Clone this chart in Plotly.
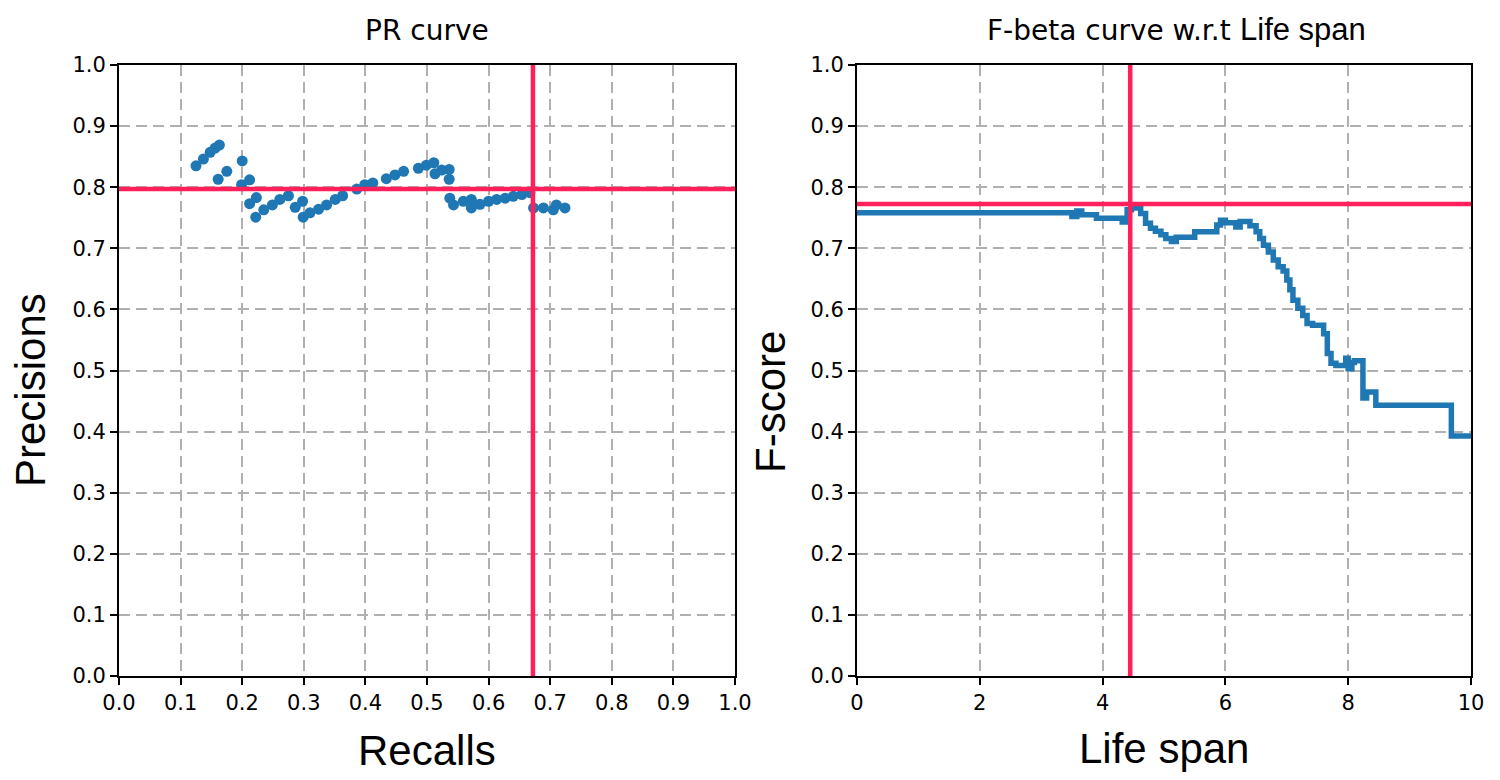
import plotly.graph_objects as go
from plotly.subplots import make_subplots

# PR curve points
recalls = [0.125, 0.137, 0.148, 0.156, 0.163, 0.161, 0.175, 0.200, 0.199, 0.212,
           0.212, 0.223, 0.222, 0.235, 0.249, 0.261, 0.275, 0.286, 0.298, 0.299,
           0.310, 0.324, 0.337, 0.351, 0.363, 0.386, 0.399, 0.412, 0.434, 0.448,
           0.462, 0.486, 0.499, 0.511, 0.513, 0.524, 0.536, 0.536, 0.537, 0.543,
           0.559, 0.572, 0.572, 0.586, 0.600, 0.613, 0.627, 0.640, 0.654, 0.667,
           0.673, 0.689, 0.705, 0.710, 0.724]
precisions = [0.835, 0.846, 0.857, 0.864, 0.869, 0.813, 0.826, 0.843, 0.804, 0.812,
              0.773, 0.783, 0.751, 0.763, 0.771, 0.780, 0.786, 0.767, 0.777, 0.751,
              0.758, 0.764, 0.771, 0.780, 0.786, 0.797, 0.804, 0.807, 0.814, 0.820,
              0.826, 0.831, 0.836, 0.840, 0.822, 0.828, 0.829, 0.813, 0.782, 0.771,
              0.777, 0.780, 0.766, 0.772, 0.777, 0.780, 0.782, 0.785, 0.788, 0.791,
              0.766, 0.766, 0.763, 0.771, 0.766]
best_recall = 0.672
best_precision = 0.797

# F-beta curve (step)
life_span = [0, 3.50, 3.58, 3.66, 3.90, 4.32, 4.40, 4.47, 4.62, 4.70, 4.78, 4.86,
             4.95, 5.03, 5.12, 5.20, 5.50, 5.86, 5.92, 6.00, 6.17, 6.24, 6.40, 6.50,
             6.56, 6.62, 6.70, 6.78, 6.86, 6.94, 7.00, 7.05, 7.10, 7.18, 7.26, 7.33,
             7.42, 7.60, 7.66, 7.72, 7.80, 7.96, 8.00, 8.06, 8.10, 8.24, 8.30, 8.45,
             9.68, 10.0]
fscore = [0.758, 0.752, 0.761, 0.755, 0.749, 0.743, 0.763, 0.766, 0.757, 0.741,
          0.733, 0.728, 0.722, 0.716, 0.711, 0.718, 0.727, 0.738, 0.746, 0.742,
          0.735, 0.744, 0.737, 0.727, 0.716, 0.705, 0.694, 0.681, 0.670, 0.663,
          0.648, 0.632, 0.615, 0.602, 0.590, 0.577, 0.574, 0.560, 0.528, 0.512,
          0.508, 0.520, 0.503, 0.513, 0.516, 0.455, 0.465, 0.443, 0.393, 0.393]
best_span = 4.45
best_fscore = 0.7725

BLUE = '#1f77b4'
RED = '#ff1f5b'

# page has an 8px body margin, so size the figure to fit inside the window
W, H = 1492, 772


def px(x):
    return (x - 8) / W


def py(y):
    return 1 - (y - 8) / H


fig = make_subplots(rows=1, cols=2)

fig.add_trace(go.Scatter(
    x=recalls, y=precisions, mode='markers',
    marker=dict(color=BLUE, size=11), showlegend=False
), row=1, col=1)

fig.add_trace(go.Scatter(
    x=life_span, y=fscore, mode='lines', line_shape='hv',
    line=dict(color=BLUE, width=5.5), showlegend=False
), row=1, col=2)

# red crosshair lines
red_line = dict(color=RED, width=4.5)
fig.add_shape(type='line', xref='x', yref='y domain', x0=best_recall, x1=best_recall,
              y0=0, y1=1, line=red_line, layer='above')
fig.add_shape(type='line', xref='x domain', yref='y', x0=0, x1=1,
              y0=best_precision, y1=best_precision, line=red_line, layer='above')
fig.add_shape(type='line', xref='x2', yref='y2 domain', x0=best_span, x1=best_span,
              y0=0, y1=1, line=red_line, layer='above')
fig.add_shape(type='line', xref='x2 domain', yref='y2', x0=0, x1=1,
              y0=best_fscore, y1=best_fscore, line=red_line, layer='above')

axis_style = dict(
    showline=True, linecolor='black', linewidth=2, mirror=True,
    ticks='outside', ticklen=7, tickwidth=2, tickcolor='black',
    showgrid=True, gridcolor='#b0b0b0', gridwidth=2, griddash='11px,6px',
    zeroline=False, automargin=False,
    tickfont=dict(family='DejaVu Sans', size=21, color='black'),
)

fig.update_xaxes(**axis_style)
fig.update_yaxes(**axis_style)

ticks01 = [i / 10 for i in range(11)]
labels01 = ['%.1f' % t for t in ticks01]

fig.update_layout(
    width=W, height=H,
    margin=dict(l=0, r=0, t=0, b=0),
    paper_bgcolor='white', plot_bgcolor='white',
    xaxis=dict(domain=[px(119), px(735)], range=[0, 1], tickvals=ticks01, ticktext=labels01),
    yaxis=dict(domain=[py(676), py(65)], range=[0, 1], tickvals=ticks01, ticktext=labels01),
    xaxis2=dict(domain=[px(857), px(1471)], range=[0, 10], tickvals=[0, 2, 4, 6, 8, 10]),
    yaxis2=dict(domain=[py(676), py(65)], range=[0, 1], tickvals=ticks01, ticktext=labels01),
)


# titles and axis labels
def label(text, x, y, size, family, angle=0, xanchor='center'):
    fig.add_annotation(text=text, x=px(x), y=py(y), xref='paper', yref='paper',
                       xanchor=xanchor, yanchor='middle', textangle=angle,
                       showarrow=False, font=dict(family=family, size=size, color='black'))


label('PR curve', 427, 31, 28, 'DejaVu Sans')
label('F-beta curve w.r.t', 1233, 31, 28, 'DejaVu Sans', xanchor='right')
label('Life span', 1238, 30, 31, 'Liberation Sans', xanchor='left')
label('Recalls', 427, 750, 42, 'Liberation Sans')
label('Life span', 1164, 748, 42, 'Liberation Sans')
label('Precisions', 30, 390, 42, 'Liberation Sans', -90)
label('F-score', 770, 402, 42, 'Liberation Sans', -90)

fig.write_html("out.html")
